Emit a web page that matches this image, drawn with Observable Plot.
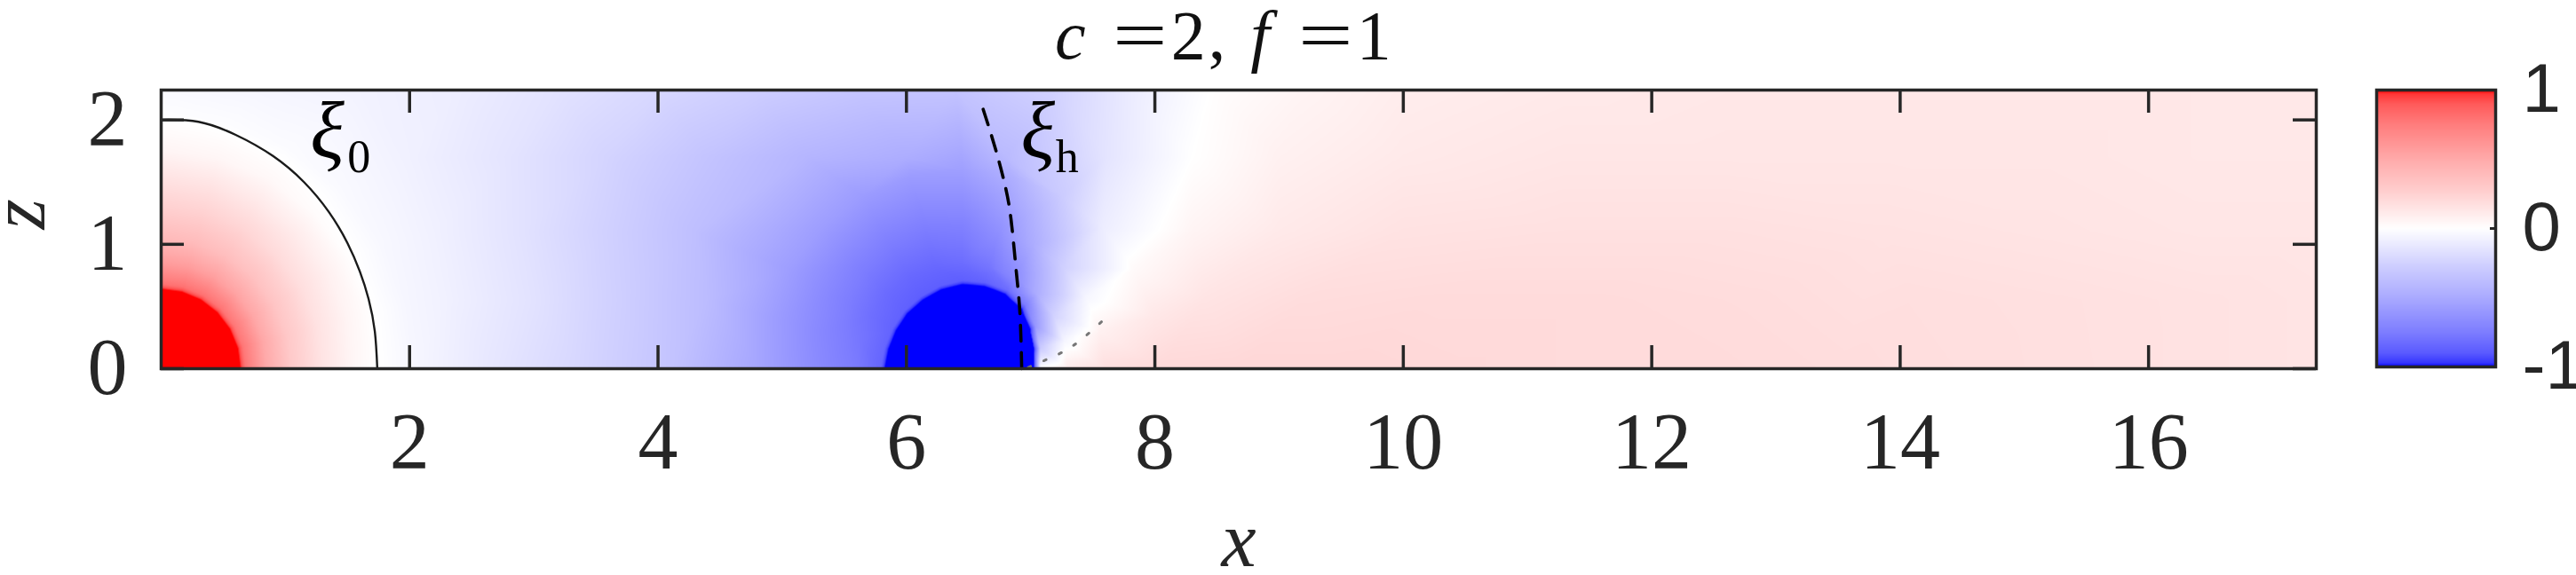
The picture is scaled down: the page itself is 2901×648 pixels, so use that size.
<!DOCTYPE html>
<html><head><meta charset="utf-8">
<script src="https://cdn.jsdelivr.net/npm/d3@7"></script>
<script src="https://cdn.jsdelivr.net/npm/@observablehq/plot@0.6"></script>
<style>
html,body{margin:0;padding:0;background:#fff;}
#wrap{position:relative;width:2901px;height:648px;overflow:hidden;}
#main,#cbar{position:absolute;top:0;}
#main{left:0}
#cbar{left:2660px}
#title{position:absolute;left:1188px;top:1px;font-family:"Liberation Serif";font-size:78px;line-height:78px;color:#111;white-space:nowrap;}
#title span{display:inline-block}
#title .i{font-style:italic}
#title .eq{transform:scaleX(1.4);transform-origin:left center}
</style></head>
<body><div id="wrap"><div id="main"></div><div id="cbar"></div><div id="title"></div></div>
<script>
// ---------- axes / ticks ----------
const xDomain = [0, 17.35];
const zDomain = [0, 2.24];
const xTicks = [2, 4, 6, 8, 10, 12, 14, 16];
const zTicks = [0, 1, 2];
const cbTicks = [-1, 0, 1];
const params = [["c", 2], ["f", 1]];

// ---------- colormap ----------
const cDomain = [-1, -0.97, -0.9, -0.75, -0.5, -0.25, 0, 0.25, 0.5, 0.75, 0.9, 0.97, 1];
const cRange = ["#0000ff", "#3737ff", "#5a5aff", "#7d7dff", "#aaaaff", "#d2d2ff", "#ffffff",
                "#ffd2d2", "#ffaaaa", "#ff7d7d", "#ff5a5a", "#ff3737", "#ff0000"];

// ---------- field samples: rings round the red source at the origin ----------
const redAngles = [0, 15, 30, 45, 60, 75, 90];
const redRadii = [0, 0.62, 0.68, 0.85, 1.05, 1.3, 1.55, 1.75, 2.05];
const redV = [
  [1.6, 1.6, 1.6, 1.6, 1.6, 1.6, 1.6],
  [1.1, 1.1, 1.1, 1.1, 1.1, 1.1, 1.1],
  [0.78, 0.78, 0.78, 0.79, 0.8, 0.8, 0.8],
  [0.5, 0.51, 0.52, 0.54, 0.56, 0.57, 0.58],
  [0.3, 0.31, 0.33, 0.35, 0.37, 0.39, 0.4],
  [0.15, 0.16, 0.18, 0.2, 0.23, 0.25, 0.26],
  [0.05, 0.06, 0.08, 0.1, 0.12, 0.14, 0.15],
  [0.0, 0.005, 0.01, 0.02, 0.04, 0.05, 0.06],
  [-0.05, -0.05, -0.04, -0.03, -0.02, -0.015, -0.01]
];

// ---------- field samples: the blue sink ----------
const blueCenter = 6.45;
const blueAngles = [0, 15, 30, 45, 60, 75, 90, 105, 120, 135, 150, 165, 180];
const blueEdgeR = [0.6, 0.62, 0.65, 0.69, 0.7, 0.69, 0.68, 0.66, 0.64, 0.63, 0.62, 0.62, 0.63];
const blueCore = -1.6;
const blueInside = -1.1;
const blueEdgeOut = [0.0, -0.3, -0.6, -0.75, -0.82, -0.86, -0.88, -0.88, -0.88, -0.87, -0.86, -0.85, -0.85];
const blueRadii = [0.85, 1.15, 1.6];
const blueV = [
  [0.12, -0.05, -0.25, -0.48, -0.67, -0.78, -0.82, -0.84, -0.84, -0.83, -0.81, -0.78, -0.76],
  [0.18, 0.08, -0.05, -0.26, -0.48, -0.64, -0.73, -0.75, -0.75, -0.74, -0.72, -0.7, -0.68],
  [0.21, 0.13, 0.03, -0.1, -0.29, -0.46, -0.56, -0.58, -0.58, -0.57, -0.57, -0.56, -0.54]
];

// ---------- field samples: background rows ----------
const bgZ = [0, 0.55, 1.1, 1.7, 2.24];
const bgX = [
  [2.7, 3.4, 4.1, 8.7, 9.5, 10.5, 11.5, 12.5, 13.5, 14.5, 15.5, 16.5, 17.35],
  [2.3, 3.0, 3.7, 4.4, 8.4, 9.2, 10.2, 11.5, 12.8, 14.1, 15.4, 16.5, 17.35],
  [2.2, 2.9, 3.6, 4.3, 8.3, 9.0, 10, 11.3, 12.6, 13.9, 15.2, 16.4, 17.35],
  [2.0, 2.8, 3.6, 4.4, 5.2, 6.0, 6.8, 7.6, 8.3, 9.0, 10, 11.3, 12.6, 13.9, 15.2, 16.4, 17.35],
  [0, 0.8, 1.6, 2.4, 3.2, 4.0, 4.8, 5.6, 6.4, 7.2, 7.8, 8.5, 9.2, 10, 11.3, 12.6, 13.9, 15.2, 16.4, 17.35]
];
const bgV = [
  [-0.14, -0.23, -0.34, 0.22, 0.22, 0.21, 0.2, 0.2, 0.19, 0.18, 0.17, 0.16, 0.15],
  [-0.08, -0.16, -0.27, -0.39, 0.15, 0.19, 0.2, 0.2, 0.19, 0.18, 0.17, 0.16, 0.15],
  [-0.08, -0.16, -0.26, -0.37, 0.06, 0.12, 0.16, 0.17, 0.17, 0.16, 0.15, 0.14, 0.14],
  [-0.08, -0.15, -0.24, -0.34, -0.43, -0.48, -0.4, -0.15, 0.0, 0.08, 0.12, 0.14, 0.14, 0.14, 0.14, 0.13, 0.13],
  [-0.03, -0.05, -0.07, -0.1, -0.16, -0.22, -0.28, -0.33, -0.34, -0.25, -0.11, 0.01, 0.06, 0.1, 0.12, 0.13, 0.13, 0.13, 0.13, 0.13]
];

// ---------- curves ----------
const xi0X = [0, 0.3, 0.6, 0.9, 1.15, 1.35, 1.5, 1.6, 1.67, 1.72, 1.74];
const xi0Z = [2.0, 1.985, 1.88, 1.71, 1.5, 1.26, 1.01, 0.78, 0.56, 0.3, 0];
const xihX = [6.928, 6.914, 6.885, 6.842, 6.79, 6.707, 6.60];
const xihZ = [0.0, 0.44, 0.774, 1.20, 1.49, 1.80, 2.14];
const dotX = [6.98, 7.12, 7.25, 7.39, 7.53, 7.64];
const dotZ = [0.01, 0.07, 0.13, 0.22, 0.34, 0.44];

// ---------- annotations ----------
const labelMain = ["ξ", "ξ"];
const labelMainX = [1.2, 6.92];
const labelMainZ = [1.9, 1.9];
const labelSub = ["0", "h"];
const labelSubX = [1.5, 7.2];
const labelSubZ = [1.7, 1.7];

// ---------- build sample table ----------
const deg = Math.PI / 180;
const pts = [];
redRadii.forEach((r, i) => {
  if (r === 0) { pts.push({x: 0, z: 0, v: redV[i][0]}); return; }
  redAngles.forEach((a, j) => pts.push({x: Math.max(0, r * Math.cos(a * deg)), z: r * Math.sin(a * deg), v: redV[i][j]}));
});
const polar = (r, a) => ({x: blueCenter + r * Math.cos(a * deg), z: Math.max(0, r * Math.sin(a * deg))});
pts.push({x: blueCenter, z: 0, v: blueCore});
blueAngles.forEach((a, j) => {
  pts.push({...polar(blueEdgeR[j] - 0.03, a), v: blueInside});
  pts.push({...polar(blueEdgeR[j] + 0.03, a), v: blueEdgeOut[j]});
  blueRadii.forEach((r, i) => pts.push({...polar(r, a), v: blueV[i][j]}));
});
bgZ.forEach((z, i) => bgX[i].forEach((x, j) => pts.push({x, z, v: bgV[i][j]})));

const xi0 = xi0X.map((x, i) => ({x, z: xi0Z[i]}));
const xih = xihX.map((x, i) => ({x, z: xihZ[i]}));
const dots = dotX.map((x, i) => ({x, z: dotZ[i]}));
const mainLabels = labelMain.map((t, i) => ({t, x: labelMainX[i], z: labelMainZ[i]}));
const subLabels = labelSub.map((t, i) => ({t, x: labelSubX[i], z: labelSubZ[i]}));

const ink = "#262626";
const colorSpec = {type: "linear", domain: cDomain, range: cRange, clamp: true, interpolate: "rgb"};

const W = 2901, H = 648, mL = 181, mR = 293, mT = 101, mB = 233;
const fw = W - mL - mR, fh = H - mT - mB;
const tick = 26;

const main = Plot.plot({
  width: W, height: H,
  marginLeft: mL, marginRight: mR, marginTop: mT, marginBottom: mB,
  x: {domain: xDomain},
  y: {domain: zDomain},
  color: colorSpec,
  style: {fontFamily: "Liberation Serif", color: ink, background: "transparent", overflow: "visible"},
  marks: [
    Plot.raster(pts, {x: "x", y: "z", fill: "v", interpolate: "barycentric",
      x1: xDomain[0], x2: xDomain[1], y1: zDomain[0], y2: zDomain[1]}),
    Plot.line(xi0, {x: "x", y: "z", curve: "natural", stroke: "#1a1a1a", strokeWidth: 2.4}),
    Plot.line(xih, {x: "x", y: "z", curve: "natural", stroke: "#000", strokeWidth: 3.6, strokeDasharray: "18 13"}),
    Plot.line(dots, {x: "x", y: "z", curve: "natural", stroke: "#777", strokeWidth: 3, strokeDasharray: "3 16"}),
    Plot.frame({stroke: ink, strokeWidth: 3.5}),
    Plot.tickX(xTicks, {x: d => d, insetTop: fh - tick, stroke: ink, strokeWidth: 3.5}),
    Plot.tickX(xTicks, {x: d => d, insetBottom: fh - tick, stroke: ink, strokeWidth: 3.5}),
    Plot.tickY(zTicks, {y: d => d, insetRight: fw - tick, stroke: ink, strokeWidth: 3.5}),
    Plot.tickY(zTicks, {y: d => d, insetLeft: fw - tick, stroke: ink, strokeWidth: 3.5}),
    Plot.axisX(xTicks, {anchor: "bottom", tickSize: 0, tickPadding: 49, fontSize: 90, label: null, tickFormat: d => String(d)}),
    Plot.axisY(zTicks, {anchor: "left", tickSize: 0, tickPadding: 38, fontSize: 90, label: null, tickFormat: d => String(d)}),
    Plot.text(["x"], {frameAnchor: "bottom", dy: 222, fontSize: 88, fontStyle: "italic", fill: ink}),
    Plot.text(["z"], {frameAnchor: "left", dx: -160, rotate: -90, fontSize: 88, fontStyle: "italic", fill: ink}),
    Plot.text(mainLabels, {x: "x", y: "z", text: "t", textAnchor: "start", fontSize: 90, fontStyle: "italic", fill: "#000"}),
    Plot.text(subLabels, {x: "x", y: "z", text: "t", textAnchor: "start", fontSize: 52,
      fontStyle: d => d.t === "h" ? "italic" : "normal", fill: "#000"})
  ]
});
document.getElementById("main").appendChild(main);

const cb = Plot.plot({
  width: 241, height: H,
  marginLeft: 16, marginRight: 91, marginTop: 101, marginBottom: 235,
  x: {domain: [0, 1], axis: null},
  y: {domain: [-1, 1], axis: null},
  color: colorSpec,
  style: {fontFamily: "Liberation Sans", color: ink, background: "transparent", overflow: "visible"},
  marks: [
    Plot.raster({fill: (x, y) => y, x1: 0, x2: 1, y1: -1, y2: 1}),
    Plot.frame({stroke: ink, strokeWidth: 3.5}),
    Plot.tickY([0], {y: d => d, insetLeft: 128, stroke: ink, strokeWidth: 3}),
    Plot.axisY(cbTicks, {anchor: "right", tickSize: 0, tickPadding: 30, fontSize: 78,
      tickFormat: d => String(d), label: null})
  ]
});
document.getElementById("cbar").appendChild(cb);

// title
const t = document.getElementById("title");
const [[n1, v1], [n2, v2]] = params;
t.innerHTML =
  `<span class="i">${n1}</span>` +
  `<span class="eq" style="margin-left:30px">=</span>` +
  `<span style="margin-left:22px">${v1}</span>` +
  `<span style="margin-left:3px">,</span>` +
  `<span class="i" style="margin-left:28px">${n2}</span>` +
  `<span class="eq" style="margin-left:32px">=</span>` +
  `<span style="margin-left:22px">${v2}</span>`;
</script></body></html>
